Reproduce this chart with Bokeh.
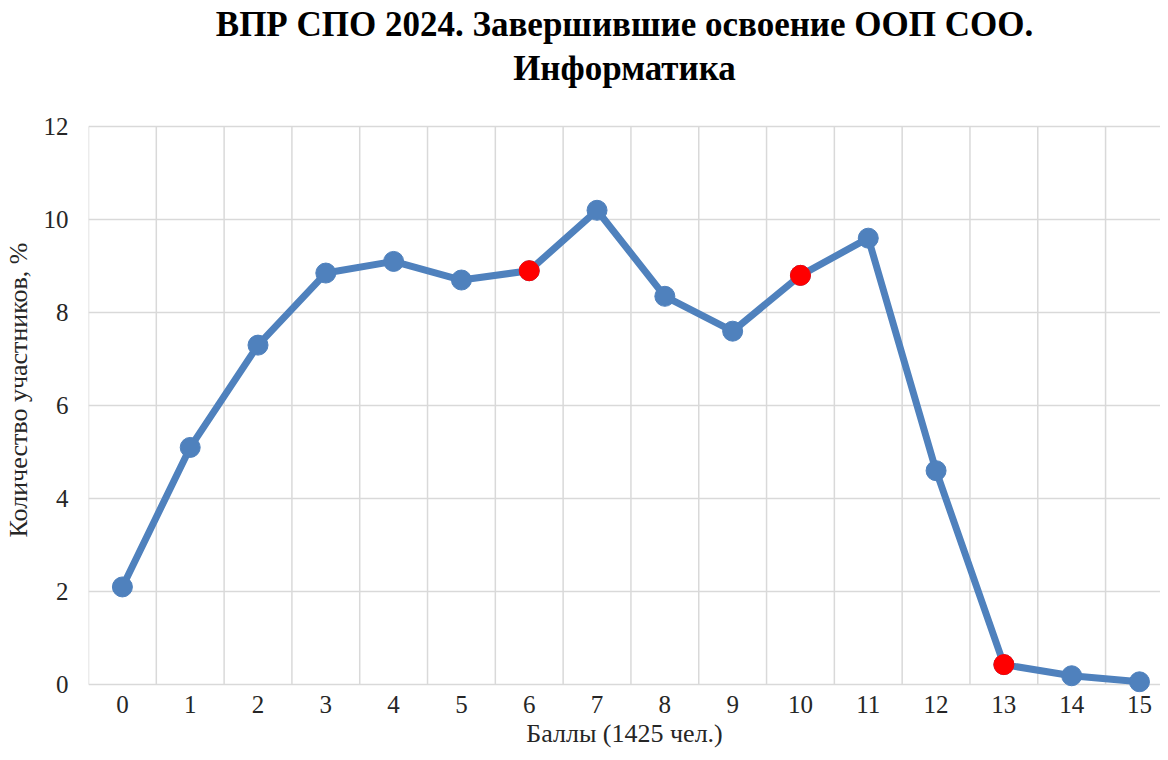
from bokeh.plotting import figure
from bokeh.models import Range1d, FixedTicker, Title, ColumnDataSource
from bokeh.embed import file_html
from bokeh.resources import INLINE

scores = list(range(16))
tick_labels = [str(s) for s in scores]
percents = [2.1, 5.1, 7.3, 8.85, 9.1, 8.7, 8.9, 10.2, 8.35, 7.6, 8.8, 9.6, 4.6, 0.43, 0.19, 0.06]
highlight_scores = [6, 10, 13]
y_ticks = [0, 2, 4, 6, 8, 10, 12]

title_line1 = "ВПР СПО 2024. Завершившие освоение ООП СОО."
title_line2 = "Информатика"
x_label = "Баллы (1425 чел.)"
y_label = "Количество участников, %"

FONT = "Liberation Serif"
BLUE = "#4F81BD"
RED = "#FF0000"
GRID = "#d9d9d9"

p = figure(width=1160, height=752, output_backend="svg", toolbar_location=None,
           x_range=Range1d(-0.5, 15.31), y_range=Range1d(-0.17, 12.84),
           min_border_left=86, min_border_right=0, min_border_top=0, min_border_bottom=60,
           title=None)
p.outline_line_color = None
p.background_fill_color = "white"
p.border_fill_color = "white"

p.add_layout(Title(text=title_line2, text_font=FONT, text_font_size="35px", text_font_style="bold",
                   align="center", text_color="black", standoff=0), "above")
p.add_layout(Title(text=title_line1, text_font=FONT, text_font_size="35px", text_font_style="bold",
                   align="center", text_color="black", standoff=5), "above")

# grids
p.xgrid.visible = False
p.ygrid.ticker = FixedTicker(ticks=y_ticks)
p.ygrid.grid_line_color = GRID
p.ygrid.grid_line_width = 1.5

# vertical grid lines at category boundaries, spanning the value axis 0..12
bounds = [s - 0.5 for s in scores] + [scores[-1] + 0.5]
p.segment(x0=bounds, x1=bounds, y0=[y_ticks[0]] * len(bounds), y1=[y_ticks[-1]] * len(bounds),
          line_color=GRID, line_width=1.5)

# axes
p.xaxis.ticker = FixedTicker(ticks=scores)
p.xaxis.major_label_overrides = {s: t for s, t in zip(scores, tick_labels)}
p.yaxis.ticker = FixedTicker(ticks=y_ticks)
for ax in (p.xaxis, p.yaxis):
    ax.axis_line_color = None
    ax.major_tick_line_color = None
    ax.minor_tick_line_color = None
    ax.major_tick_out = 0
    ax.major_tick_in = 0
    ax.minor_tick_out = 0
    ax.major_label_text_font = FONT
    ax.major_label_text_font_size = "25px"
    ax.major_label_text_color = "#262626"
    ax.axis_label_text_font = FONT
    ax.axis_label_text_font_size = "26px"
    ax.axis_label_text_font_style = "normal"
    ax.axis_label_text_color = "#262626"
p.xaxis.axis_label = x_label
p.yaxis.axis_label = y_label
p.xaxis.major_label_standoff = 3
p.xaxis.axis_label_standoff = 3
p.yaxis.major_label_standoff = 20
p.yaxis.axis_label_standoff = 8

src = ColumnDataSource(dict(x=scores, y=percents))
p.line("x", "y", source=src, line_color=BLUE, line_width=7)
p.scatter("x", "y", source=src, size=20, fill_color=BLUE, line_color=BLUE)

hx = highlight_scores
hy = [percents[s] for s in hx]
p.scatter(hx, hy, size=20, fill_color=RED, line_color=RED)

open("out.html", "w").write(file_html(p, INLINE))
